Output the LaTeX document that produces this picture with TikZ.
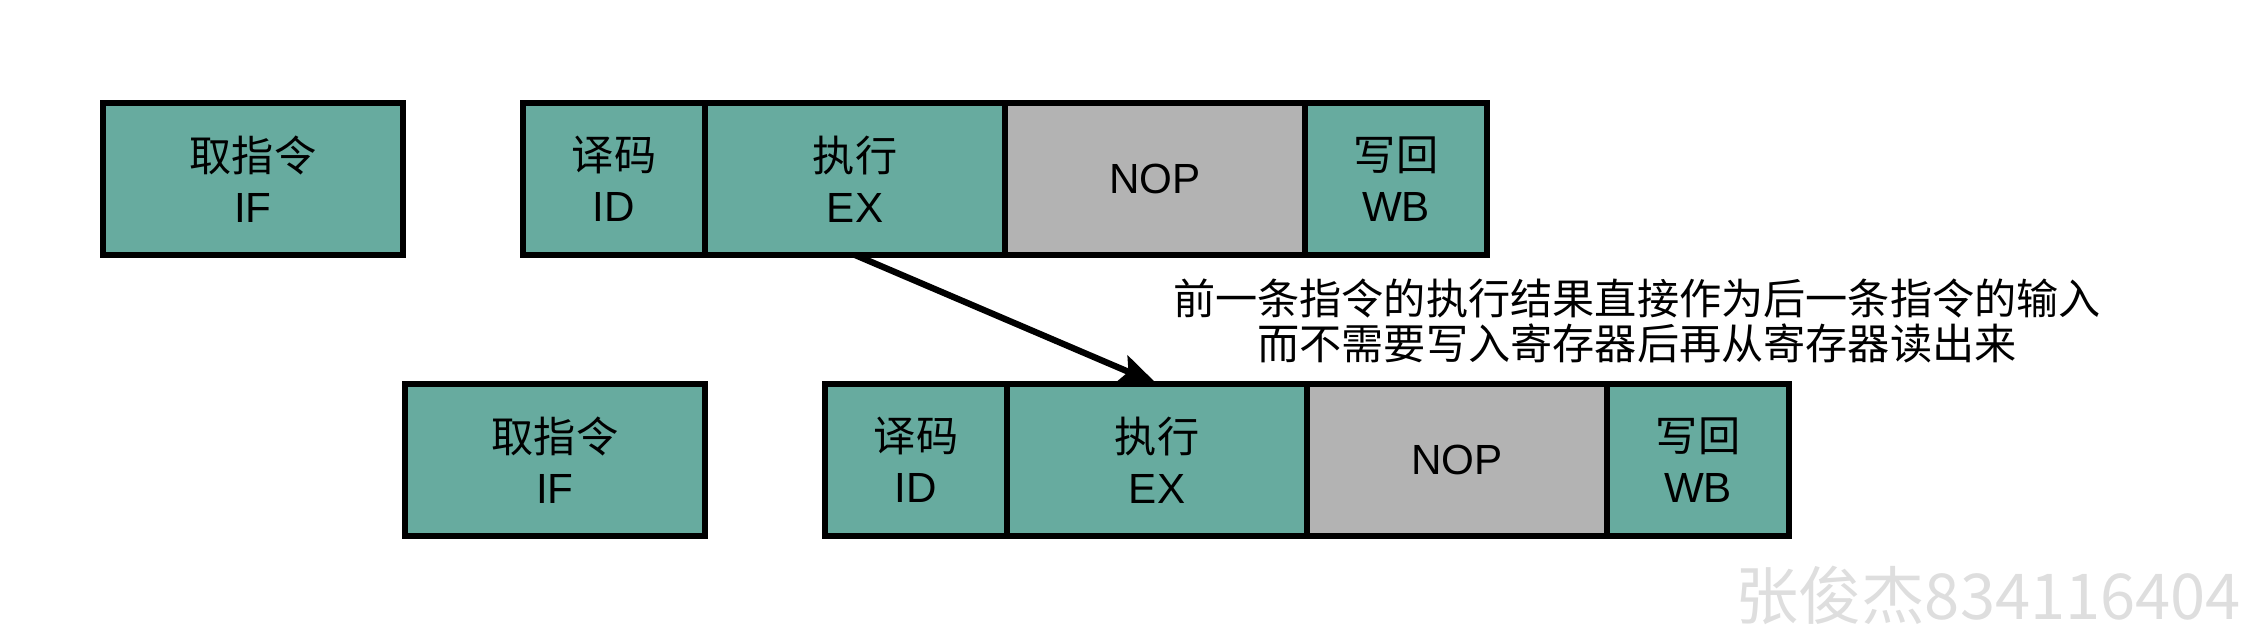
\documentclass[tikz,border=0pt]{standalone}
\usepackage{fontspec}
\setmainfont{Liberation Sans}
\newfontfamily\cjk{Noto Sans CJK SC}
\usetikzlibrary{positioning,arrows.meta}
\definecolor{stageC}{HTML}{67AB9F}
\definecolor{nopC}{HTML}{B3B3B3}

\begin{document}
\begin{tikzpicture}[
  stage/.style={draw,line width=1.5pt,fill=stageC,minimum height=1.52cm,
    inner sep=0pt,outer sep=0pt,align=center,font=\fontsize{12}{14.5}\selectfont},
  wide/.style={stage,minimum width=3cm},
  narrow/.style={stage,minimum width=1.82cm},
  nopbox/.style={wide,fill=nopC}]
  \useasboundingbox (0,0) rectangle (22.49,6.38);

  % two pipelines, the second one starts one stage later
  \foreach \r/\x/\y in {a/2.53/4.59, b/5.55/1.78}{
    \node[wide] (if\r) at (\x,\y) {{\cjk 取指令}\\IF};
    \node[narrow,right=1.2cm of if\r] (id\r) {{\cjk 译码}\\ID};
    \node[wide,right=0pt of id\r] (ex\r) {{\cjk 执行}\\EX};
    \node[nopbox,right=0pt of ex\r] (nop\r) {NOP};
    \node[narrow,right=0pt of nop\r] (wb\r) {{\cjk 写回}\\WB};
  }

  % forwarding
  \draw[line width=1.8pt,-{Stealth[length=3.8mm,width=2.9mm,inset=0.7mm]}]
    (exa.south) -- (exb.north);
  \node[align=center,font=\cjk\fontsize{12}{13}\selectfont] (note) at (16.37,3.17)
    {前一条指令的执行结果直接作为后一条指令的输入\\而不需要写入寄存器后再从寄存器读出来};

  % watermark
  \node[black!13,font=\cjk\fontsize{18}{20}\selectfont] (mark) at (19.88,0.43) {张俊杰834116404};
\end{tikzpicture}
\end{document}
